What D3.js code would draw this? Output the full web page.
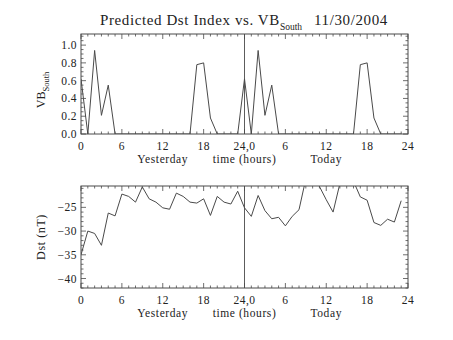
<!DOCTYPE html>
<html><head><meta charset="utf-8">
<script src="https://cdn.jsdelivr.net/npm/d3@7"></script>
<style>
body{margin:0;background:#fff;}
svg text{font-family:"Liberation Serif","Times New Roman",serif;fill:#222;}
</style></head>
<body><div id="chart"></div>
<script>
// Hours 0..47 (0-23 yesterday, 24-47 today)
const hours = d3.range(0, 48);
const vbSouth = [0.62,0.00,0.94,0.21,0.55,0.00,0,0,0,0,0,0,0,0,0,0,0.00,0.78,0.80,0.18,0.00,0,0,0.00,
                 0.62,0.00,0.94,0.21,0.55,0.00,0,0,0,0,0,0,0,0,0,0,0.00,0.78,0.80,0.18,0.00,0,0,0];
const dst = [-35.0,-30.0,-30.5,-33.0,-26.2,-26.8,-22.2,-22.7,-23.9,-20.7,-23.2,-23.9,-25.1,-25.4,-22.0,-22.7,-23.9,-24.1,-23.2,-26.7,-22.7,-23.9,-24.3,-21.6,
             -25.1,-26.9,-22.5,-25.7,-27.4,-27.1,-28.9,-26.9,-25.5,-19.0,-18.5,-20.6,-23.4,-26.0,-20.0,-18.5,-19.5,-22.8,-23.5,-28.2,-28.8,-27.5,-28.1,-23.6];
const xTickValues = [0,6,12,18,24,30,36,42,48];
const xTickLabels = ["0","6","12","18","24,0","6","12","18","24"];
const vbTicks = [0.0,0.2,0.4,0.6,0.8,1.0];
const dstTicks = [-40,-35,-30,-25];
const titleText = "Predicted Dst Index vs. VB";
const titleSub = "South";
const dateText = "11/30/2004";

const W = 453, H = 340;
const svg = d3.select("#chart").append("svg").attr("width", W).attr("height", H);
const col = "#4a4a4a";
const left = 81, right = 408;
const fs = 11.5;
const x = d3.scaleLinear().domain([0,48]).range([left,right]);

function panel(top, bottom, yDomain, yTicks, yMinorStep, yFmt, values) {
  const y = d3.scaleLinear().domain(yDomain).range([bottom, top]);
  const g = svg.append("g");
  const clipId = "clip" + top;
  svg.append("clipPath").attr("id", clipId).append("rect")
    .attr("x", left).attr("y", top).attr("width", right-left).attr("height", bottom-top);
  d3.range(0, 49, 1).forEach(h => {
    const len = (h % 6 === 0) ? 5 : 2.5;
    g.append("line").attr("x1", x(h)).attr("x2", x(h)).attr("y1", bottom).attr("y2", bottom-len).attr("stroke", col).attr("stroke-width",0.8);
    g.append("line").attr("x1", x(h)).attr("x2", x(h)).attr("y1", top).attr("y2", top+len).attr("stroke", col).attr("stroke-width",0.8);
  });
  const start = Math.ceil(yDomain[0]/yMinorStep - 1e-6)*yMinorStep;
  for (let v = start; v <= yDomain[1]+1e-9; v += yMinorStep) {
    const isMaj = yTicks.some(t => Math.abs(t - v) < 1e-6);
    const len = isMaj ? 5 : 2.5;
    g.append("line").attr("x1", left).attr("x2", left+len).attr("y1", y(v)).attr("y2", y(v)).attr("stroke", col).attr("stroke-width",0.8);
    g.append("line").attr("x1", right).attr("x2", right-len).attr("y1", y(v)).attr("y2", y(v)).attr("stroke", col).attr("stroke-width",0.8);
  }
  g.append("rect").attr("x", left).attr("y", top).attr("width", right-left).attr("height", bottom-top)
    .attr("fill","none").attr("stroke", col).attr("stroke-width",1);
  yTicks.forEach(t => {
    g.append("text").attr("x", left-4).attr("y", y(t)+4).attr("text-anchor","end")
      .attr("font-size", fs).attr("letter-spacing",0.5).text(yFmt(t));
  });
  xTickValues.forEach((t,i) => {
    g.append("text").attr("x", x(t)).attr("y", bottom+16).attr("text-anchor","middle")
      .attr("font-size", fs).attr("letter-spacing",0.5).text(xTickLabels[i]);
  });
  g.append("line").attr("x1", x(24)).attr("x2", x(24)).attr("y1", top).attr("y2", bottom).attr("stroke", col).attr("stroke-width",0.9);
  const line = d3.line().x((d,i)=>x(hours[i])).y(d=>y(d));
  g.append("path").datum(values).attr("d", line).attr("fill","none").attr("stroke", col)
    .attr("stroke-width",1).attr("clip-path", `url(#${clipId})`);
  [[12,"Yesterday"],[24,"time (hours)"],[36,"Today"]].forEach(([h,s]) => {
    g.append("text").attr("x", x(h)).attr("y", bottom+29).attr("text-anchor","middle")
      .attr("font-size",fs).attr("letter-spacing",0.6).text(s);
  });
  return y;
}

panel(34, 134, [0, 1.125], vbTicks, 0.05, d3.format(".1f"), vbSouth);
panel(186, 288, [-42, -20.5], dstTicks, 1, d => String(d).replace("-","\u2212"), dst);

const t1 = svg.append("text").attr("transform","translate(45,90) rotate(-90)").attr("text-anchor","middle").attr("font-size",fs+0.5);
t1.append("tspan").text("VB");
t1.append("tspan").attr("font-size",8.5).attr("dy",4).text("South");
svg.append("text").attr("transform","translate(45,237) rotate(-90)").attr("text-anchor","middle")
  .attr("font-size",fs+0.5).attr("letter-spacing",0.6).text("Dst (nT)");

const tt = svg.append("text").attr("x", 100).attr("y", 25).attr("font-size", 15).attr("letter-spacing", 0.6);
tt.append("tspan").text(titleText);
tt.append("tspan").attr("font-size", 9.5).attr("dy", 5).attr("letter-spacing",0).text(titleSub);
tt.append("tspan").attr("dy", -5).attr("dx", 12).text(dateText);
</script></body></html>
